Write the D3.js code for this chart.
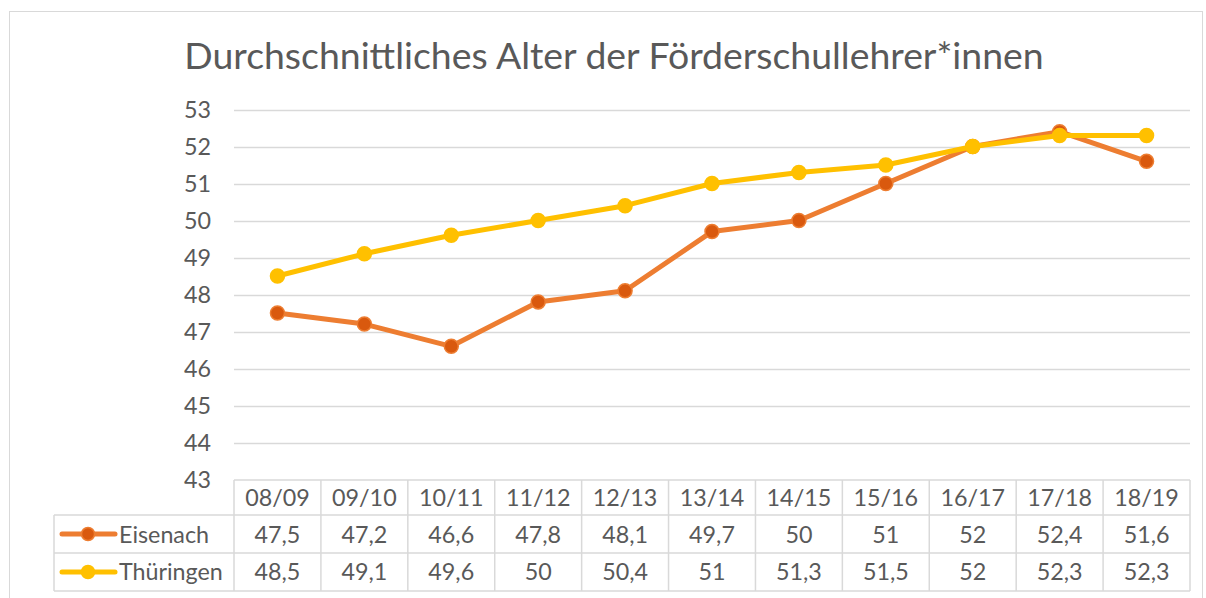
<!DOCTYPE html>
<meta charset="utf-8">
<style>
body { margin: 0; background: #fff; font-family: Lato, sans-serif; }
</style>
<body>
<svg width="1206" height="598"></svg>
<script src="https://cdn.jsdelivr.net/npm/d3@7"></script>
<script>

var years = ["08/09", "09/10", "10/11", "11/12", "12/13", "13/14", "14/15", "15/16", "16/17", "17/18", "18/19"];
var eisenach = [47.5, 47.2, 46.6, 47.8, 48.1, 49.7, 50, 51, 52, 52.4, 51.6];
var thueringen = [48.5, 49.1, 49.6, 50, 50.4, 51, 51.3, 51.5, 52, 52.3, 52.3];
var yTicks = [43, 44, 45, 46, 47, 48, 49, 50, 51, 52, 53];

var series = [
  {name: "Eisenach", values: eisenach, line: "#ED7D31", dot: "#D9590E"},
  {name: "Thüringen", values: thueringen, line: "#FFC000", dot: "#FFC000"}
];

var svg = d3.select("svg");
var fmt = function(v) { return String(v).replace(".", ","); };
var fs = 23.3;

// outer chart frame
svg.append("rect")
    .attr("x", 9.5).attr("y", 11.5)
    .attr("width", 1193).attr("height", 600)
    .attr("fill", "#fff")
    .attr("stroke", "#d9d9d9");

svg.append("text")
    .attr("x", 614).attr("y", 69)
    .attr("text-anchor", "middle")
    .attr("font-size", 37.4)
    .attr("fill", "#595959")
    .text("Durchschnittliches Alter der Förderschullehrer*innen");

var x = d3.scaleBand().domain(years).range([234, 1190]);
var y = d3.scaleLinear().domain([43, 53]).range([479.5, 109.5]);

// gridlines
svg.append("g").selectAll("line")
    .data(yTicks.slice(1))
    .join("line")
    .attr("x1", 234).attr("x2", 1190)
    .attr("y1", function(d) { return Math.round(y(d)) + 0.5; })
    .attr("y2", function(d) { return Math.round(y(d)) + 0.5; })
    .attr("stroke", "#d9d9d9")
    .attr("stroke-width", 1.5);

svg.append("g").selectAll("text")
    .data(yTicks)
    .join("text")
    .attr("x", 211)
    .attr("y", function(d) { return y(d); })
    .attr("dy", "0.36em")
    .attr("text-anchor", "end")
    .attr("font-size", fs)
    .attr("fill", "#595959")
    .text(function(d) { return d; });

// data table
var rowTop = [480, 515, 553, 591];
var table = svg.append("g").attr("stroke", "#d9d9d9").attr("stroke-width", 1.5);
table.append("line").attr("x1", 234).attr("x2", 1190).attr("y1", rowTop[0]).attr("y2", rowTop[0]);
table.append("line").attr("x1", 54).attr("x2", 1190).attr("y1", rowTop[1]).attr("y2", rowTop[1]);
table.append("line").attr("x1", 54).attr("x2", 1190).attr("y1", rowTop[2]).attr("y2", rowTop[2]);
table.append("line").attr("x1", 54).attr("x2", 1190).attr("y1", rowTop[3]).attr("y2", rowTop[3]);
table.append("line").attr("x1", 54).attr("x2", 54).attr("y1", rowTop[1]).attr("y2", rowTop[3]);
table.selectAll(".col")
    .data(years.concat(["end"]))
    .join("line")
    .attr("x1", function(d, i) { return i < years.length ? x(d) : x.range()[1]; })
    .attr("x2", function(d, i) { return i < years.length ? x(d) : x.range()[1]; })
    .attr("y1", rowTop[0]).attr("y2", rowTop[3]);

svg.append("g").selectAll("text")
    .data(years)
    .join("text")
    .attr("x", function(d) { return x(d) + x.bandwidth() / 2; })
    .attr("y", 506)
    .attr("text-anchor", "middle")
    .attr("font-size", fs)
    .attr("fill", "#595959")
    .text(function(d) { return d; });

var rowBase = [543, 580];
series.forEach(function(s, r) {
  var row = svg.append("g");
  row.selectAll("text")
      .data(s.values)
      .join("text")
      .attr("x", function(d, i) { return x(years[i]) + x.bandwidth() / 2; })
      .attr("y", rowBase[r])
      .attr("text-anchor", "middle")
      .attr("font-size", fs)
      .attr("fill", "#595959")
      .text(fmt);

  var ly = (rowTop[r + 1] + rowTop[r + 2]) / 2;
  row.append("line")
      .attr("x1", 62).attr("x2", 115)
      .attr("y1", ly).attr("y2", ly)
      .attr("stroke", s.line).attr("stroke-width", 5)
      .attr("stroke-linecap", "round");
  row.append("circle")
      .attr("cx", 88).attr("cy", ly).attr("r", 6.5)
      .attr("fill", s.dot).attr("stroke", s.line).attr("stroke-width", 1.5);
  row.append("text")
      .attr("x", 119).attr("y", rowBase[r])
      .attr("font-size", fs)
      .attr("fill", "#595959")
      .text(s.name);
});

// lines
var line = d3.line()
    .x(function(d, i) { return x(years[i]) + x.bandwidth() / 2; })
    .y(function(d) { return y(d); });

series.forEach(function(s) {
  svg.append("path")
      .datum(s.values)
      .attr("fill", "none")
      .attr("stroke", s.line)
      .attr("stroke-width", 5)
      .attr("stroke-linejoin", "round")
      .attr("d", line);
  svg.append("g").selectAll("circle")
      .data(s.values)
      .join("circle")
      .attr("cx", function(d, i) { return x(years[i]) + x.bandwidth() / 2; })
      .attr("cy", function(d) { return y(d); })
      .attr("r", 7)
      .attr("fill", s.dot)
      .attr("stroke", s.line)
      .attr("stroke-width", 1.5);
});

</script>
</body>
